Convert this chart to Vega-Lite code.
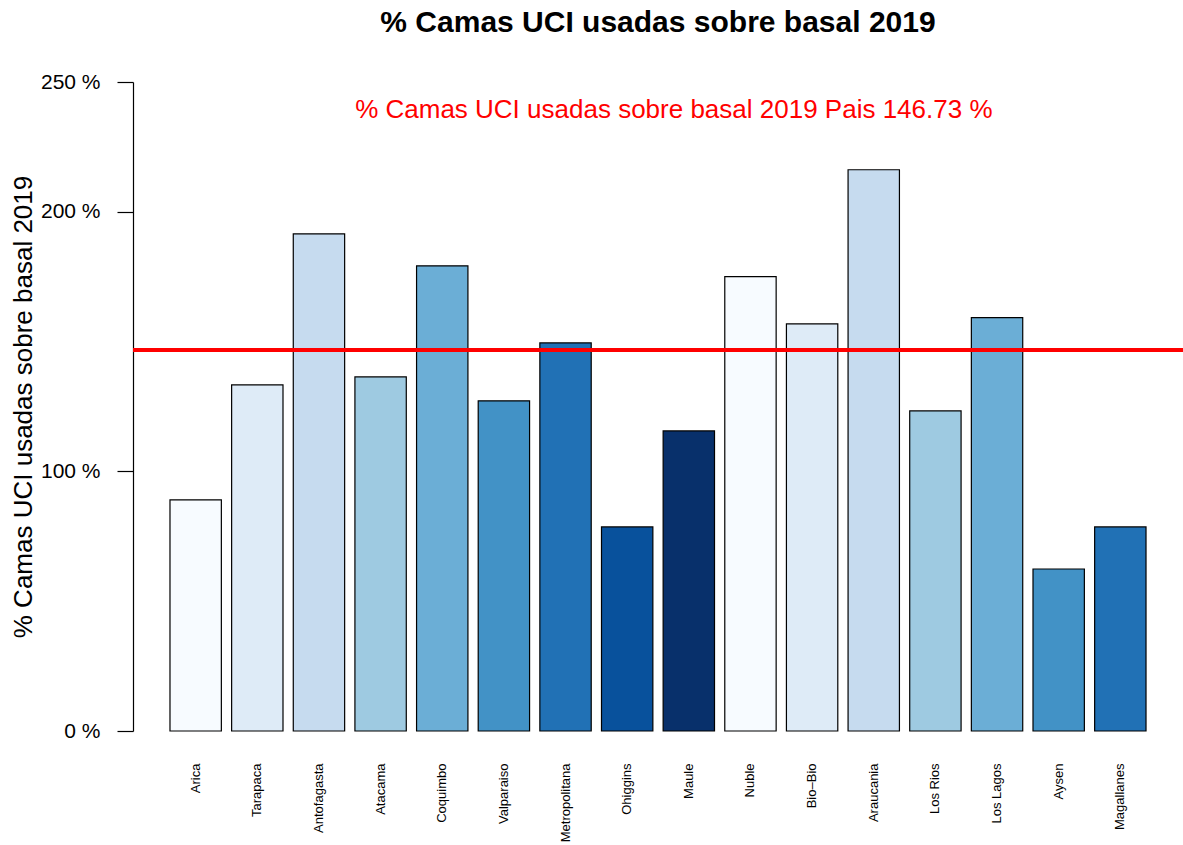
{
  "$schema": "https://vega.github.io/schema/vega-lite/v6.json",
  "width": 1050,
  "height": 649,
  "autosize": "none",
  "padding": {"left": 133, "top": 82, "right": 0, "bottom": 114},
  "background": "white",
  "config": {
    "font": "Liberation Sans",
    "view": {"stroke": null}
  },
  "title": {
    "text": "% Camas UCI usadas sobre basal 2019",
    "fontSize": 30,
    "fontWeight": "bold",
    "font": "Liberation Sans",
    "color": "black",
    "anchor": "middle",
    "offset": 33
  },
  "data": {
    "values": [
      {"region": "Arica", "pct": 89.0},
      {"region": "Tarapaca", "pct": 133.3},
      {"region": "Antofagasta", "pct": 191.5},
      {"region": "Atacama", "pct": 136.4},
      {"region": "Coquimbo", "pct": 179.2},
      {"region": "Valparaiso", "pct": 127.2},
      {"region": "Metropolitana", "pct": 149.5},
      {"region": "Ohiggins", "pct": 78.6},
      {"region": "Maule", "pct": 115.6},
      {"region": "Nuble", "pct": 175.0},
      {"region": "Bio–Bio", "pct": 156.8},
      {"region": "Araucania", "pct": 216.2},
      {"region": "Los Rios", "pct": 123.3},
      {"region": "Los Lagos", "pct": 159.2},
      {"region": "Aysen", "pct": 62.4},
      {"region": "Magallanes", "pct": 78.6}
    ]
  },
  "layer": [
    {
      "mark": {"type": "bar", "stroke": "black", "strokeWidth": 1.2},
      "encoding": {
        "x": {
          "field": "region",
          "type": "nominal",
          "sort": null,
          "scale": {"paddingInner": 0.1667, "paddingOuter": 0.6},
          "axis": {
            "title": null,
            "domain": false,
            "ticks": false,
            "tickSize": 0,
            "labelAngle": -90,
            "labelFontSize": 13,
            "labelPadding": 32,
            "labelColor": "black",
            "labelFont": "Liberation Sans"
          }
        },
        "y": {
          "field": "pct",
          "type": "quantitative",
          "scale": {"domain": [0, 250], "nice": false, "zero": true},
          "axis": {
            "title": "% Camas UCI usadas sobre basal 2019",
            "titleFontSize": 26,
            "titleFontWeight": "normal",
            "titleColor": "black",
            "titleFont": "Liberation Sans",
            "titleAngle": -90,
            "titleBaseline": "alphabetic",
            "titleX": -102,
            "titleY": 324.5,
            "values": [0, 100, 200, 250],
            "labelExpr": "datum.value + ' %'",
            "labelFontSize": 21,
            "labelColor": "black",
            "labelFont": "Liberation Sans",
            "labelPadding": 17,
            "tickSize": 16,
            "tickColor": "black",
            "tickWidth": 1.2,
            "domainColor": "black",
            "domainWidth": 1.2,
            "grid": false
          }
        },
        "color": {
          "field": "region",
          "type": "nominal",
          "scale": {
            "domain": ["Arica", "Tarapaca", "Antofagasta", "Atacama", "Coquimbo", "Valparaiso", "Metropolitana", "Ohiggins", "Maule", "Nuble", "Bio–Bio", "Araucania", "Los Rios", "Los Lagos", "Aysen", "Magallanes"],
            "range": ["#F7FBFF", "#DEEBF7", "#C6DBEF", "#9ECAE1", "#6BAED6", "#4292C6", "#2171B5", "#08519C", "#08306B", "#F7FBFF", "#DEEBF7", "#C6DBEF", "#9ECAE1", "#6BAED6", "#4292C6", "#2171B5"]
          },
          "legend": null
        }
      }
    },
    {
      "mark": {"type": "rule", "color": "#FF0000", "strokeWidth": 3},
      "encoding": {"y": {"datum": 146.73}}
    },
    {
      "data": {"values": [{"label": "% Camas UCI usadas sobre basal 2019 Pais 146.73 %", "region": "Maule", "pct": 240}]},
      "mark": {"type": "text", "color": "#FF0000", "fontSize": 26, "font": "Liberation Sans", "baseline": "middle", "align": "center", "dx": -15, "dy": 2},
      "encoding": {
        "x": {"field": "region", "type": "nominal", "sort": null},
        "y": {"field": "pct", "type": "quantitative"},
        "text": {"field": "label"}
      }
    }
  ]
}
